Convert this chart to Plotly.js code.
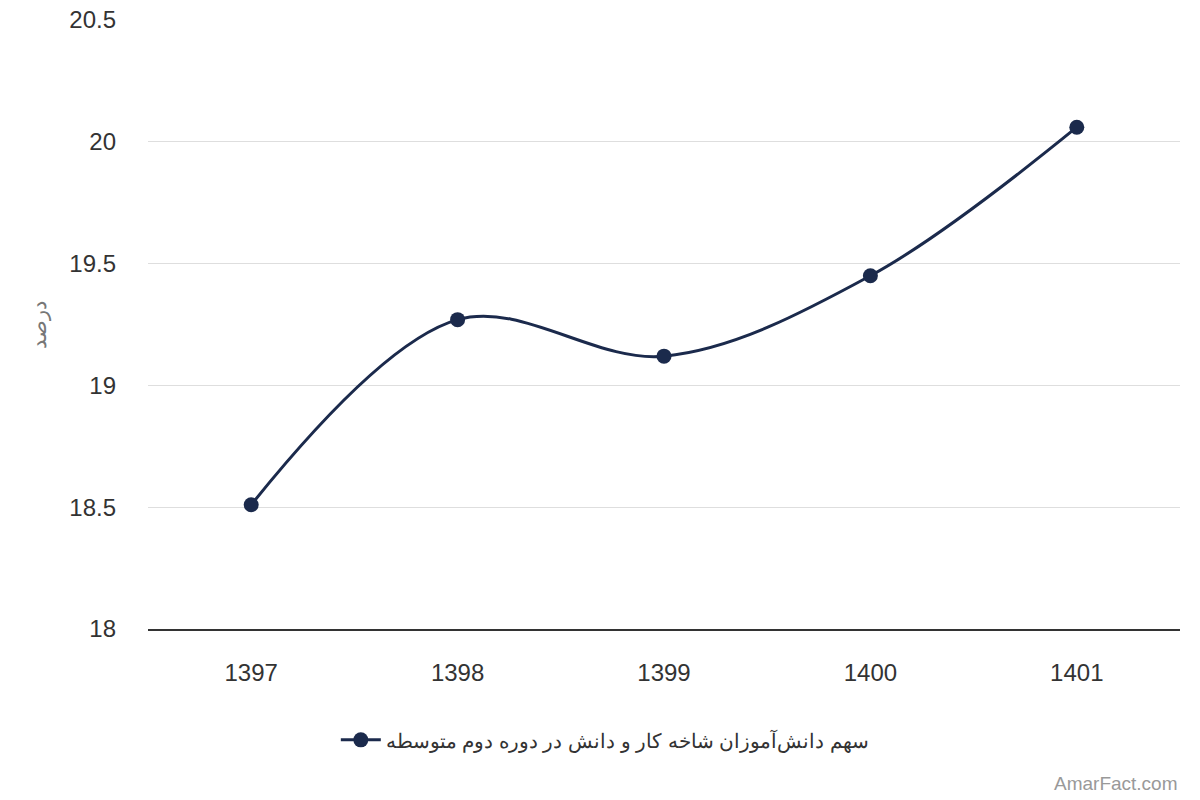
<!DOCTYPE html>
<html>
<head>
<meta charset="utf-8">
<script src="https://cdn.plot.ly/plotly-3.0.1.min.js"></script>
<style>
  html, body { margin: 0; padding: 0; background: #fff; }
  #chart { width: 1200px; height: 800px; }
</style>
</head>
<body>
<div id="chart"></div>
<script>
"use strict";

// values
const years = ["1397", "1398", "1399", "1400", "1401"];
const share = [18.51, 19.27, 19.12, 19.45, 20.06];
const seriesName = "سهم دانش‌آموزان شاخه کار و دانش در دوره دوم متوسطه";
const yTickVals = [18, 18.5, 19, 19.5, 20, 20.5];
const yTickText = ["18", "18.5", "19", "19.5", "20", "20.5"];

const NAVY = "#1b2a4c";
const FONT = "Liberation Sans, Arial, sans-serif";

const data = [
  {
    x: years,
    y: share,
    type: "scatter",
    mode: "lines+markers",
    name: seriesName,
    line: { color: NAVY, width: 3, shape: "spline", smoothing: 1 },
    marker: { color: NAVY, size: 15 },
    hoverinfo: "x+y",
  },
];

const layout = {
  width: 1200,
  height: 800,
  paper_bgcolor: "#fff",
  plot_bgcolor: "#fff",
  font: { family: FONT, size: 20, color: "#333" },
  margin: { l: 148, r: 20, t: 20, b: 171 },
  showlegend: true,
  legend: {
    orientation: "h",
    x: 0.182,
    xanchor: "left",
    y: -0.15,
    yanchor: "top",
    itemwidth: 40,
    font: { family: FONT, size: 20, color: "#333" },
  },
  xaxis: {
    type: "category",
    range: [-0.5, 4.5],
    showgrid: false,
    showline: true,
    linecolor: "#333",
    linewidth: 1.5,
    ticks: "",
    ticklabelstandoff: 22,
    tickfont: { size: 24, color: "#333" },
    fixedrange: true,
  },
  yaxis: {
    range: [18, 20.5],
    tickvals: yTickVals,
    ticktext: yTickText,
    showgrid: true,
    gridcolor: "#dedede",
    gridwidth: 1,
    zeroline: false,
    showline: false,
    ticks: "",
    ticklabelstandoff: 31,
    tickfont: { size: 24, color: "#333" },
    title: { text: "درصد", font: { size: 21, color: "#777" }, standoff: 16 },
    automargin: false,
    fixedrange: true,
  },
  annotations: [
    {
      text: "AmarFact.com",
      xref: "paper",
      yref: "paper",
      x: 1.0,
      y: -0.253,
      xanchor: "right",
      yanchor: "middle",
      showarrow: false,
      font: { family: FONT, size: 19, color: "#999" },
    },
  ],
};

Plotly.newPlot("chart", data, layout, { displayModeBar: false, staticPlot: true });
</script>
</body>
</html>
